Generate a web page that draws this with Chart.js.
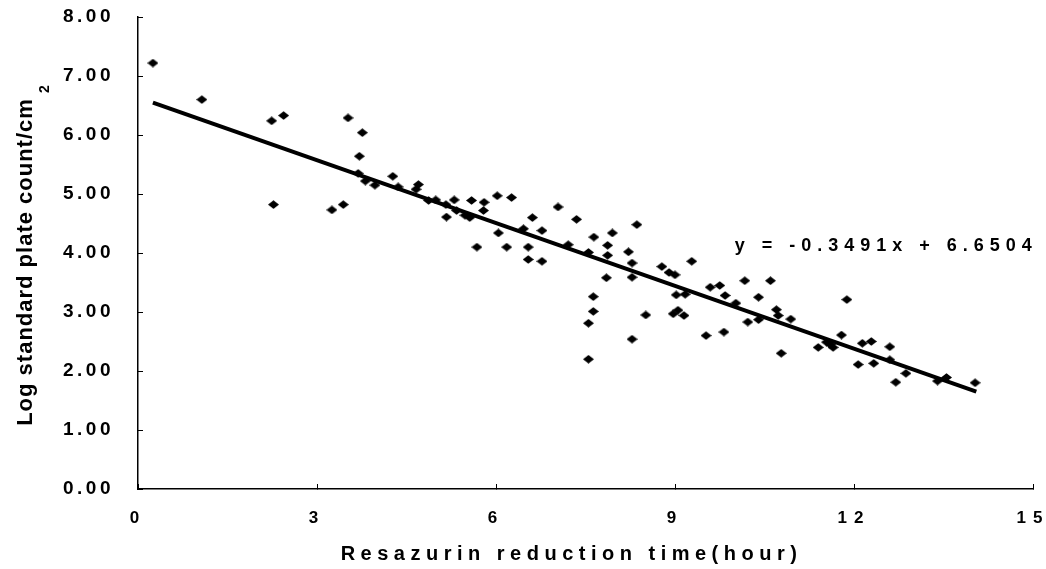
<!DOCTYPE html>
<html>
<head>
<meta charset="utf-8">
<script src="https://cdn.jsdelivr.net/npm/chart.js@4.4.0/dist/chart.umd.min.js"></script>
<style>
  html, body { margin: 0; padding: 0; background: #ffffff; }
  #c { display: block; }
</style>
</head>
<body>
<canvas id="c" width="1046" height="569" style="width:1046px;height:569px"></canvas>
<script>
// ---- data ----
const xValues = [0.25,1.07,2.24,2.44,2.27,3.25,3.44,3.52,3.76,3.71,3.69,3.81,3.97,4.27,4.36,4.70,4.66,4.87,4.99,5.16,5.30,5.17,5.34,5.48,5.59,5.80,5.79,5.56,6.02,6.26,6.04,5.68,6.18,6.54,6.54,6.77,6.61,6.46,6.77,7.04,7.35,7.21,8.36,7.55,7.64,7.87,7.95,7.87,8.22,8.28,8.28,7.85,7.63,7.63,7.55,7.55,8.28,8.51,8.78,8.90,9.00,9.28,9.02,9.17,9.05,9.15,8.97,9.52,9.82,9.59,9.75,9.84,10.02,10.17,10.22,10.60,10.40,10.40,10.70,10.73,10.94,10.78,11.88,11.40,11.54,11.65,11.79,12.14,12.29,12.60,12.07,12.33,12.60,12.70,12.87,13.40,13.55,14.03,11.60];
const yValues = [7.22,6.60,6.24,6.33,4.82,4.73,4.82,6.29,6.04,5.64,5.35,5.22,5.15,5.30,5.12,5.16,5.08,4.89,4.90,4.82,4.90,4.61,4.72,4.64,4.89,4.86,4.72,4.60,4.97,4.94,4.34,4.10,4.10,4.10,3.89,3.86,4.60,4.41,4.38,4.78,4.57,4.14,4.48,4.01,4.27,4.13,4.34,3.96,4.02,3.83,3.59,3.58,3.26,3.01,2.81,2.20,2.54,2.95,3.77,3.67,3.63,3.86,3.29,3.30,3.03,2.94,2.97,2.60,2.66,3.42,3.45,3.28,3.15,3.53,2.83,3.53,3.25,2.87,3.04,2.94,2.88,2.30,3.21,2.40,2.49,2.40,2.61,2.47,2.50,2.41,2.11,2.13,2.19,1.81,1.96,1.83,1.89,1.80,2.45];
// trend line end points as drawn in the picture
const trendX = [0.25, 14.05];
const trendY = [6.55, 1.65];
const xTickLabels = ['0','3','6','9','12','15'];
const yTickLabels = ['0.00','1.00','2.00','3.00','4.00','5.00','6.00','7.00','8.00'];
const xTitle = 'Resazurin reduction time(hour)';
const yTitle = 'Log standard plate count/cm';
const yTitleSup = '2';
const equationText = 'y = -0.3491x + 6.6504';

// ---- styling ----
const FONT = '"Liberation Sans", Arial, Helvetica, sans-serif';
const eqAnchor = { x: 10.0, y: 4.12 };

const diamond = document.createElement('canvas');
diamond.width = 11; diamond.height = 9;
(function () {
  const c = diamond.getContext('2d');
  c.fillStyle = '#000';
  c.beginPath();
  c.moveTo(5.5, 0.3); c.lineTo(11, 4.5); c.lineTo(5.5, 8.7); c.lineTo(0, 4.5);
  c.closePath(); c.fill();
})();

const points = xValues.map((x, i) => ({ x: x, y: yValues[i] }));
const trend = trendX.map((x, i) => ({ x: x, y: trendY[i] }));

const spacingPlugin = {
  id: 'spacingPlugin',
  beforeDraw(chart) {
    const ctx = chart.ctx;
    const cfg = {
      x: { labels: '7px', title: '5.5px', dx: -14, dy: 0 },
      y: { labels: '3.5px', title: '1px', dx: 0, dy: 9 }
    };
    for (const id of ['x', 'y']) {
      const s = chart.scales[id];
      if (!s || s._patched) continue;
      s._patched = true;
      const oL = s.drawLabels, oT = s.drawTitle;
      s.drawLabels = function (a) {
        ctx.save(); ctx.letterSpacing = cfg[id].labels; oL.call(this, a); ctx.restore();
      };
      s.drawTitle = function () {
        ctx.save(); ctx.letterSpacing = cfg[id].title; ctx.translate(cfg[id].dx, cfg[id].dy); oT.call(this); ctx.restore();
      };
    }
  },
  afterDraw(chart) {
    const ctx = chart.ctx;
    const xs = chart.scales.x, ys = chart.scales.y;
    ctx.save();
    ctx.fillStyle = '#000';
    ctx.font = 'bold 18px ' + FONT;
    ctx.letterSpacing = '6px';
    ctx.textAlign = 'left';
    ctx.textBaseline = 'middle';
    ctx.fillText(equationText, xs.getPixelForValue(eqAnchor.x), ys.getPixelForValue(eqAnchor.y));
    ctx.restore();

    ctx.save();
    ctx.fillStyle = '#000';
    ctx.font = 'bold 14px ' + FONT;
    ctx.textAlign = 'center';
    ctx.textBaseline = 'middle';
    ctx.translate(ys.left + 45, chart.chartArea.top + 72);
    ctx.rotate(-Math.PI / 2);
    ctx.fillText(yTitleSup, 0, 0);
    ctx.restore();
  }
};

new Chart(document.getElementById('c'), {
  type: 'scatter',
  data: {
    datasets: [
      {
        label: 'trend',
        type: 'line',
        data: trend,
        borderColor: '#000',
        borderWidth: 4,
        pointRadius: 0,
        fill: false,
        tension: 0,
        order: 2
      },
      {
        label: 'samples',
        data: points,
        pointStyle: diamond,
        pointRadius: 5,
        backgroundColor: '#000',
        borderColor: '#000',
        order: 1
      }
    ]
  },
  options: {
    responsive: false,
    animation: false,
    devicePixelRatio: 1,
    layout: { padding: { top: 17, right: 13, left: 0, bottom: 0 } },
    plugins: { legend: { display: false }, tooltip: { enabled: false } },
    scales: {
      x: {
        type: 'linear',
        min: 0, max: 15,
        afterFit(s) { s.height = 80; s.paddingLeft = 0; s.paddingRight = 0; s.paddingTop = 0; s.paddingBottom = 0; },
        afterBuildTicks(s) { s.ticks = xTickLabels.map(t => ({ value: Number(t) })); },
        ticks: {
          color: '#000',
          font: { family: FONT, size: 17, weight: 'bold' },
          padding: 24,
          maxRotation: 0,
          autoSkip: false,
          callback: (v, i) => xTickLabels[i]
        },
        grid: { drawOnChartArea: false, tickLength: -5, color: '#000', lineWidth: 1 },
        border: { display: true, color: '#000', width: 1.5 },
        title: {
          display: true, text: xTitle, color: '#000',
          font: { family: FONT, size: 20, weight: 'bold' },
          padding: { top: 0, bottom: 2.5 }
        }
      },
      y: {
        type: 'linear',
        min: 0, max: 8,
        afterFit(s) { s.width = 138; s.paddingLeft = 0; s.paddingRight = 0; s.paddingTop = 0; s.paddingBottom = 0; },
        afterBuildTicks(s) { s.ticks = yTickLabels.map(t => ({ value: Number(t) })); },
        ticks: {
          color: '#000',
          font: { family: FONT, size: 19, weight: 'bold' },
          padding: 29,
          autoSkip: false,
          callback: (v, i) => yTickLabels[i]
        },
        grid: { drawOnChartArea: false, tickLength: -5, color: '#000', lineWidth: 1 },
        border: { display: true, color: '#000', width: 1.5 },
        title: {
          display: true, text: yTitle, color: '#000',
          font: { family: FONT, size: 22, weight: 'bold' },
          padding: { top: 12.5, bottom: 0 }
        }
      }
    }
  },
  plugins: [spacingPlugin]
});
</script>
</body>
</html>
